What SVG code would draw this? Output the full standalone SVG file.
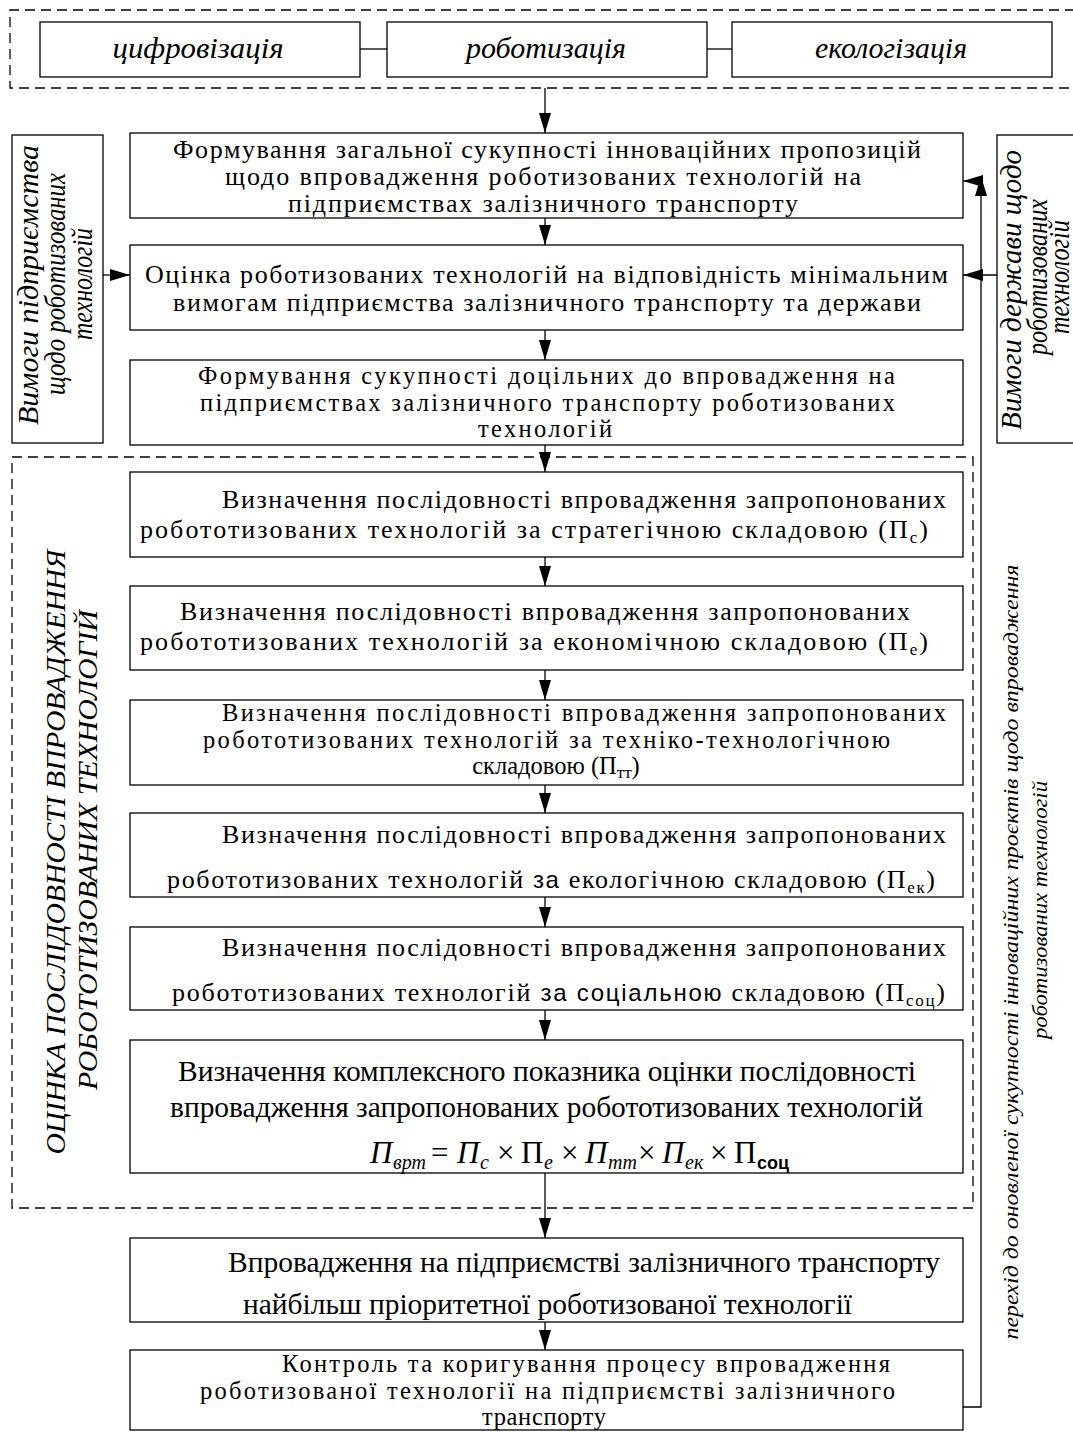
<svg xmlns="http://www.w3.org/2000/svg" width="1073" height="1432" viewBox="0 0 1073 1432">
<defs>
<style>
.box{fill:#fff;stroke:#000;stroke-width:1.3}
.dash{fill:none;stroke:#000;stroke-width:1.3;stroke-dasharray:10 6}
.ln{fill:none;stroke:#000;stroke-width:1.3}
.t{font-family:"Liberation Serif","Times New Roman",serif;font-size:26px;fill:#000}
.t3{font-family:"Liberation Serif","Times New Roman",serif;font-size:24.5px;fill:#000}
.tc{font-family:"Liberation Serif","Times New Roman",serif;font-size:30px;fill:#000}
.tk{font-family:"Liberation Serif","Times New Roman",serif;font-size:24.5px;fill:#000}
.c{text-anchor:middle}
.it{font-family:"Liberation Serif","Times New Roman",serif;font-style:italic;fill:#000}
.sub{font-size:17px}
.sans{font-family:"Liberation Sans",Arial,sans-serif;font-size:24px}
</style>
<marker id="ah" markerUnits="userSpaceOnUse" markerWidth="20" markerHeight="12" refX="20" refY="6" orient="auto">
<path d="M0,0 L20,6 L0,12 Z" fill="#000"/>
</marker>
</defs>
<rect width="1073" height="1432" fill="#fff"/>

<g id="top-group">
<path class="dash" d="M1075,10 H10 V88 H1075"/>
</g>
<g id="node-tsyfr">
<rect class="box" x="40" y="22" width="320" height="55"/>
<text class="it c" x="198" y="58" font-size="30" textLength="171" lengthAdjust="spacingAndGlyphs">цифровізація</text>
</g>
<g id="node-robot">
<rect class="box" x="387" y="22" width="320" height="55"/>
<text class="it c" x="546" y="58" font-size="30" textLength="160" lengthAdjust="spacingAndGlyphs">роботизація</text>
</g>
<g id="node-ekol">
<rect class="box" x="732" y="22" width="320" height="55"/>
<text class="it c" x="891" y="58" font-size="30" textLength="152" lengthAdjust="spacingAndGlyphs">екологізація</text>
</g>

<g id="node-left-req">
<rect class="box" x="12" y="135" width="91" height="308"/>
<text class="it c" font-size="30" transform="translate(38,285) rotate(-90)" textLength="280" lengthAdjust="spacingAndGlyphs">Вимоги підприємства</text>
<text class="it c" font-size="30" transform="translate(65,284) rotate(-90)" textLength="222" lengthAdjust="spacingAndGlyphs">щодо роботизованих</text>
<text class="it c" font-size="30" transform="translate(92,284) rotate(-90)" textLength="112" lengthAdjust="spacingAndGlyphs">технологій</text>
</g>

<g id="node-right-req">
<rect class="box" x="997" y="135" width="80" height="308"/>
<text class="it c" font-size="30" transform="translate(1021,290) rotate(-90)" textLength="280" lengthAdjust="spacingAndGlyphs">Вимоги держави щодо</text>
<text class="it c" font-size="30" transform="translate(1047,277) rotate(-90)" textLength="156" lengthAdjust="spacingAndGlyphs">роботизованих</text>
<text class="it c" font-size="30" transform="translate(1069,277) rotate(-90)" textLength="114" lengthAdjust="spacingAndGlyphs">технологій</text>
</g>

<g id="node-A">
<rect class="box" x="130" y="133" width="833" height="85"/>
<text class="t" x="173" y="158" textLength="748" lengthAdjust="spacing">Формування загальної сукупності інноваційних пропозицій</text>
<text class="t" x="225" y="185" textLength="636" lengthAdjust="spacing">щодо впровадження роботизованих технологій на</text>
<text class="t" x="288" y="212" textLength="510" lengthAdjust="spacing">підприємствах залізничного транспорту</text>
</g>

<g id="node-B">
<rect class="box" x="130" y="245" width="833" height="85"/>
<text class="t" x="145" y="283" textLength="803" lengthAdjust="spacing">Оцінка роботизованих технологій на відповідність мінімальним</text>
<text class="t" x="173" y="311" textLength="748" lengthAdjust="spacing">вимогам підприємства залізничного транспорту та держави</text>
</g>

<g id="node-C">
<rect class="box" x="130" y="360" width="833" height="85"/>
<text class="t3" x="198" y="384" textLength="697" lengthAdjust="spacing">Формування сукупності доцільних до впровадження на</text>
<text class="t3" x="200" y="410.5" textLength="695" lengthAdjust="spacing">підприємствах залізничного транспорту роботизованих</text>
<text class="t3" x="478" y="437" textLength="134" lengthAdjust="spacing">технологій</text>
</g>

<g id="eval-group">
<path class="dash" d="M12,457 H973 V1208 H12 Z"/>
<text class="it c" font-size="28" transform="translate(65,852) rotate(-90)" textLength="605" lengthAdjust="spacingAndGlyphs">ОЦІНКА ПОСЛІДОВНОСТІ ВПРОВАДЖЕННЯ</text>
<text class="it c" font-size="28" transform="translate(97,850) rotate(-90)" textLength="480" lengthAdjust="spacingAndGlyphs">РОБОТОТИЗОВАНИХ ТЕХНОЛОГІЙ</text>
</g>

<g id="node-D">
<rect class="box" x="130" y="472" width="833" height="85"/>
<text class="t" x="222" y="508" textLength="724" lengthAdjust="spacing">Визначення послідовності впровадження запропонованих</text>
<text class="t" x="140" y="538" textLength="788" lengthAdjust="spacing">робототизованих технологій за стратегічною складовою (П<tspan class="sub" dy="5">с</tspan><tspan dy="-5">)</tspan></text>
</g>

<g id="node-E">
<rect class="box" x="130" y="586" width="833" height="84"/>
<text class="t" x="180" y="620" textLength="730" lengthAdjust="spacing">Визначення послідовності впровадження запропонованих</text>
<text class="t" x="140" y="650" textLength="788" lengthAdjust="spacing">робототизованих технологій за економічною складовою (П<tspan class="sub" dy="5">е</tspan><tspan dy="-5">)</tspan></text>
</g>

<g id="node-F">
<rect class="box" x="130" y="700" width="833" height="85"/>
<text class="t3" x="222" y="721" textLength="724" lengthAdjust="spacing">Визначення послідовності впровадження запропонованих</text>
<text class="t3" x="203" y="747.5" textLength="687" lengthAdjust="spacing">робототизованих технологій за техніко-технологічною</text>
<text class="t3 c" x="556" y="774">складовою  (П<tspan class="sub" dy="4">тт</tspan><tspan dy="-4">)</tspan></text>
</g>

<g id="node-G">
<rect class="box" x="130" y="813" width="833" height="84"/>
<text class="t" x="222" y="843" textLength="724" lengthAdjust="spacing">Визначення послідовності впровадження запропонованих</text>
<text class="t" x="167" y="888" textLength="768" lengthAdjust="spacing">робототизованих технологій <tspan class="sans">за</tspan> екологічною складовою (П<tspan class="sub" dy="5">ек</tspan><tspan dy="-5">)</tspan></text>
</g>

<g id="node-H">
<rect class="box" x="130" y="927" width="833" height="83"/>
<text class="t" x="222" y="956" textLength="724" lengthAdjust="spacing">Визначення послідовності впровадження запропонованих</text>
<text class="t" x="172" y="1001" textLength="773" lengthAdjust="spacing">робототизованих технологій <tspan class="sans">за соціальною</tspan> складовою (П<tspan class="sub" dy="5">соц</tspan><tspan dy="-5">)</tspan></text>
</g>

<g id="node-I">
<rect class="box" x="130" y="1040" width="833" height="133"/>
<text class="tc" x="178" y="1081" textLength="738" lengthAdjust="spacingAndGlyphs">Визначення комплексного показника оцінки послідовності</text>
<text class="tc" x="170" y="1117" textLength="753" lengthAdjust="spacingAndGlyphs">впровадження запропонованих робототизованих технологій</text>
<text class="it" font-size="31" y="1163"><tspan x="370">П</tspan><tspan x="393" dy="6" font-size="20">врт</tspan><tspan x="431" dy="-6" font-style="normal">=</tspan><tspan x="457">П</tspan><tspan x="480" dy="6" font-size="20">с</tspan><tspan x="497" dy="-6" font-style="normal">×</tspan><tspan x="521" font-style="normal">П</tspan><tspan x="544" dy="6" font-size="20">е</tspan><tspan x="561" dy="-6" font-style="normal">×</tspan><tspan x="585">П</tspan><tspan x="608" dy="6" font-size="20">тт</tspan><tspan x="638" dy="-6" font-style="normal">×</tspan><tspan x="662">П</tspan><tspan x="685" dy="6" font-size="20">ек</tspan><tspan x="710" dy="-6" font-style="normal">×</tspan><tspan x="734" font-style="normal">П</tspan><tspan x="757" dy="6" font-size="18" font-style="normal" font-weight="bold" font-family="Liberation Sans, Arial, sans-serif">соц</tspan></text>
</g>

<g id="node-J">
<rect class="box" x="130" y="1238" width="833" height="84"/>
<text class="tc" x="228" y="1272" textLength="712" lengthAdjust="spacingAndGlyphs">Впровадження на підприємстві залізничного транспорту</text>
<text class="tc" x="243" y="1314" textLength="609" lengthAdjust="spacingAndGlyphs">найбільш пріоритетної роботизованої технології</text>
</g>

<g id="node-K">
<rect class="box" x="130" y="1350" width="833" height="80"/>
<text class="tk" x="282" y="1372" textLength="608" lengthAdjust="spacing">Контроль та коригування процесу впровадження</text>
<text class="tk" x="200" y="1398.5" textLength="695" lengthAdjust="spacing">роботизованої технології на підприємстві залізничного</text>
<text class="tk" x="482" y="1425" textLength="124" lengthAdjust="spacing">транспорту</text>
</g>

<g id="feedback-label">
<text class="it c" font-size="21" transform="translate(1018,952) rotate(-90)" textLength="775" lengthAdjust="spacingAndGlyphs">перехід до оновленої сукупності інноваційних проєктів щодо впровадження</text>
<text class="it c" font-size="21" transform="translate(1047,910) rotate(-90)" textLength="258" lengthAdjust="spacingAndGlyphs">роботизованих технологій</text>
</g>

<g id="connectors">
<line class="ln" x1="360" y1="49" x2="387" y2="49"/>
<line class="ln" x1="707" y1="49" x2="732" y2="49"/>
<line class="ln" x1="545" y1="88" x2="545" y2="133" marker-end="url(#ah)"/>
<line class="ln" x1="545" y1="218" x2="545" y2="245" marker-end="url(#ah)"/>
<line class="ln" x1="545" y1="330" x2="545" y2="360" marker-end="url(#ah)"/>
<line class="ln" x1="545" y1="445" x2="545" y2="472" marker-end="url(#ah)"/>
<line class="ln" x1="545" y1="557" x2="545" y2="586" marker-end="url(#ah)"/>
<line class="ln" x1="545" y1="670" x2="545" y2="700" marker-end="url(#ah)"/>
<line class="ln" x1="545" y1="785" x2="545" y2="813" marker-end="url(#ah)"/>
<line class="ln" x1="545" y1="897" x2="545" y2="927" marker-end="url(#ah)"/>
<line class="ln" x1="545" y1="1010" x2="545" y2="1040" marker-end="url(#ah)"/>
<line class="ln" x1="545" y1="1173" x2="545" y2="1238" marker-end="url(#ah)"/>
<line class="ln" x1="545" y1="1322" x2="545" y2="1350" marker-end="url(#ah)"/>
<line class="ln" x1="103" y1="275" x2="130" y2="275" marker-end="url(#ah)"/>
<line class="ln" x1="997" y1="275" x2="963" y2="275" marker-end="url(#ah)"/>
<path class="ln" d="M963,1407 H981 V176" marker-end="url(#ah)"/>
<line class="ln" x1="981" y1="181" x2="963" y2="181" marker-end="url(#ah)"/>
</g>
</svg>
